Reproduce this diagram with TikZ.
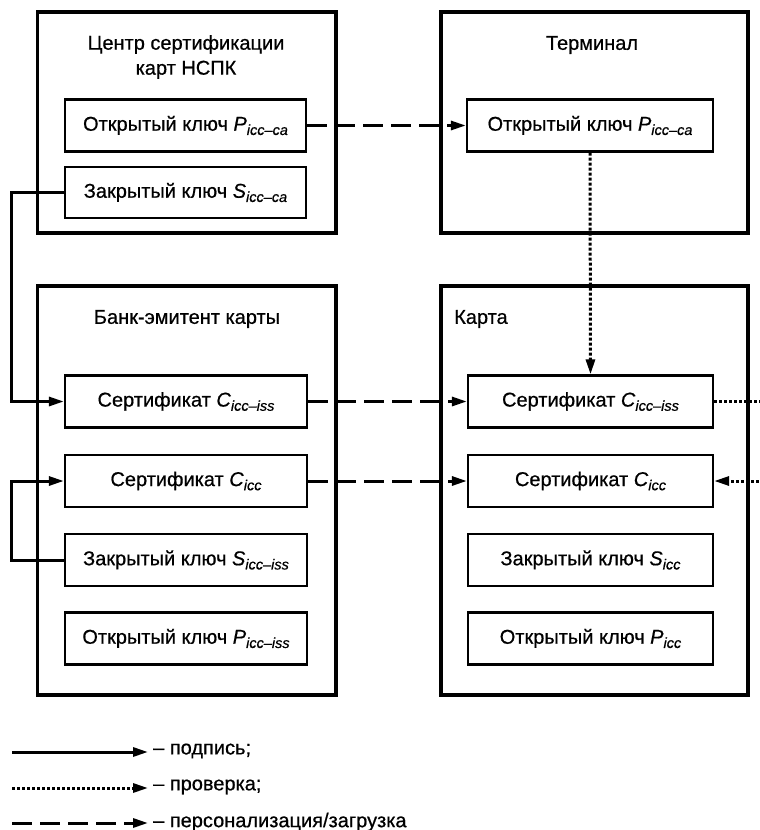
\documentclass[tikz,border=0pt]{standalone}
\usepackage{fontspec}
\setmainfont[FakeBold=0.6]{Liberation Sans}
\usetikzlibrary{arrows.meta}
\newcommand{\sbs}[2]{\textit{#1}\raisebox{-0.4ex}{\fontsize{14.5}{14.5}\selectfont\itshape #2}}
\begin{document}
\begin{tikzpicture}[x=1pt,y=-1pt,
  outer/.style={draw,line width=3.5pt},
  inner/.style={draw,line width=2.3pt,minimum height=52pt,inner sep=0pt,font=\fontsize{20}{23}\selectfont},
  ttl/.style={font=\fontsize{20}{25}\selectfont,align=center,inner sep=0pt},
  tip/.style={-{Triangle[length=15pt,width=9pt]}},
  sig/.style={tip,line width=3pt},
  chk/.style={tip,line width=3pt,dash pattern=on 3pt off 2pt},
  per/.style={tip,line width=3pt,dash pattern=on 20pt off 8pt},
  leg/.style={anchor=west,inner sep=0pt,font=\fontsize{20}{23}\selectfont}]
\clip (0,0) rectangle (760,830);
\fill[white] (0,0) rectangle (760,830);
% outer boxes
\draw[outer] (37.5,12) rectangle (336,233);
\draw[outer] (441,12) rectangle (748,233);
\draw[outer] (37.5,286) rectangle (336,695);
\draw[outer] (441,286) rectangle (748,695);
% titles
\node[ttl] (tA) at (186,57) {Центр сертификации\\карт НСПК};
\node[ttl] (tB) at (592,45) {Терминал};
\node[ttl] (tC) at (187,319) {Банк-эмитент карты};
\node[ttl,anchor=west] (tD) at (454,319) {Карта};
% inner boxes
\node[inner,minimum width=241pt] (caP) at (185.5,125.5) {Открытый ключ \sbs{P}{icc–ca}};
\node[inner,minimum width=241pt,minimum height=51pt] (caS) at (185.5,192.5) {Закрытый ключ \sbs{S}{icc–ca}};
\node[inner,minimum width=246pt] (tP) at (590,125.5) {Открытый ключ \sbs{P}{icc–ca}};
\node[inner,minimum width=242pt] (bC1) at (186,401.5) {Сертификат \sbs{C}{icc–iss}};
\node[inner,minimum width=242pt] (bC2) at (186,481) {Сертификат \sbs{C}{icc}};
\node[inner,minimum width=242pt] (bS) at (186,560) {Закрытый ключ \sbs{S}{icc–iss}};
\node[inner,minimum width=242pt] (bP) at (186,638.5) {Открытый ключ \sbs{P}{icc–iss}};
\node[inner,minimum width=245pt] (cC1) at (590.5,401.5) {Сертификат \sbs{C}{icc–iss}};
\node[inner,minimum width=245pt] (cC2) at (590.5,481) {Сертификат \sbs{C}{icc}};
\node[inner,minimum width=245pt] (cS) at (590.5,560) {Закрытый ключ \sbs{S}{icc}};
\node[inner,minimum width=245pt] (cP) at (590.5,638.5) {Открытый ключ \sbs{P}{icc}};
% connectors
\draw[sig] (caS.west) -- ++(-52.5,0) |- (bC1.west);
\draw[sig] (bS.west) -- ++(-52.5,0) |- (bC2.west);
\draw[per] (caP.east) -- (tP.west);
\draw[per] (bC1.east) -- (cC1.west);
\draw[per] (bC2.east) -- (cC2.west);
\draw[chk] (tP.south) -- (cC1.north);
\draw[chk] (cC1.east) -- ++(70,0) |- (cC2.east);
% legend
\coordinate (l1a) at (12,752); \coordinate (l1b) at (148,752);
\coordinate (l2a) at (12,788); \coordinate (l2b) at (148,788);
\coordinate (l3a) at (12,823); \coordinate (l3b) at (148,823);
\draw[sig] (l1a) -- (l1b);
\draw[chk] (l2a) -- (l2b);
\draw[per] (l3a) -- (l3b);
\node[leg] (t1) at (153,751) {– подпись;};
\node[leg] (t2) at (153,787) {– проверка;};
\node[leg] (t3) at (153,822) {– персонализация/загрузка};
\end{tikzpicture}
\end{document}
